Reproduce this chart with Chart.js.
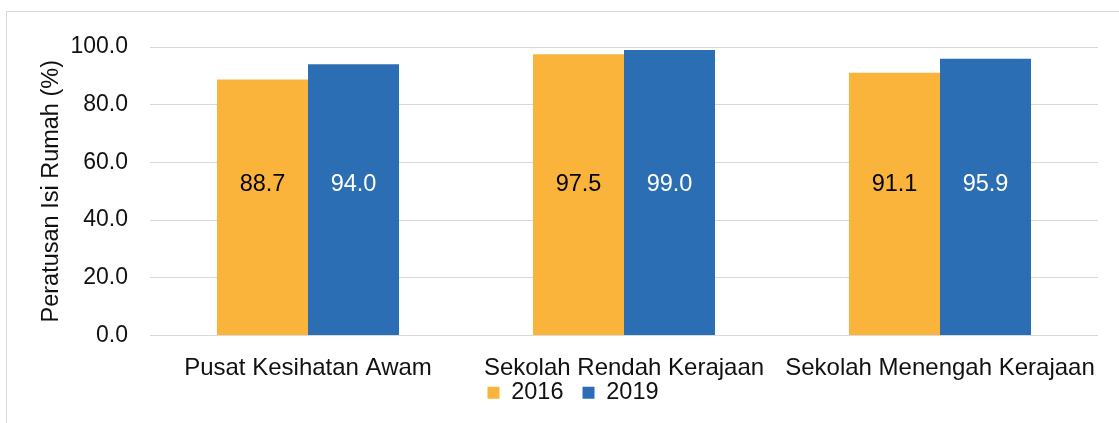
<!DOCTYPE html>
<html>
<head>
<meta charset="utf-8">
<script src="https://cdn.jsdelivr.net/npm/chart.js@4.4.1/dist/chart.umd.min.js"></script>
<style>
    html, body { margin: 0; padding: 0; background: #fff; }
    .wrap { position: relative; width: 1119px; height: 423px; overflow: hidden; }
    .frame { position: absolute; left: 6px; top: 11px; width: 1200px; height: 500px; border: 1px solid #d9d9d9; }
    .wrap canvas { position: absolute; left: 0; top: 0; }
</style>
</head>
<body>
<div class="wrap">
    <div class="frame"></div>
    <canvas id="chart" width="1119" height="423"></canvas>
</div>
<script>
// Data
const categories = ['Pusat Kesihatan Awam', 'Sekolah Rendah Kerajaan', 'Sekolah Menengah Kerajaan'];
const years = ['2016', '2019'];
const values2016 = [88.7, 97.5, 91.1];
const values2019 = [94.0, 99.0, 95.9];
const yTicks = [0, 20, 40, 60, 80, 100];

const colors = {
    orange: '#fbb43b',
    blue: '#2b6eb4',
    grid: '#d9d9d9',
    text: '#111111'
};
const fontFamily = "'Liberation Sans', Arial, sans-serif";

// value labels, all drawn at the same height like the original
const valueLabels = {
    id: 'valueLabels',
    afterDatasetsDraw(chart) {
        const ctx = chart.ctx;
        const yPix = chart.scales.y.getPixelForValue(52.5);
        ctx.save();
        ctx.font = '23.5px ' + fontFamily;
        ctx.textAlign = 'center';
        ctx.textBaseline = 'middle';
        chart.data.datasets.forEach((ds, i) => {
            const meta = chart.getDatasetMeta(i);
            ctx.fillStyle = i === 0 ? '#000000' : '#ffffff';
            meta.data.forEach((bar, j) => {
                ctx.fillText(ds.data[j].toFixed(1), bar.x, yPix);
            });
        });
        ctx.restore();
    }
};

// move the legend up under the category labels and a bit to the right
const legendShift = {
    id: 'legendShift',
    afterLayout(chart) {
        const lg = chart.legend;
        if (lg) {
            lg.left += 24;
            lg.right += 24;
            lg.top -= 23.5;
            lg.bottom -= 23.5;
        }
    }
};

new Chart(document.getElementById('chart'), {
    type: 'bar',
    data: {
        labels: categories,
        datasets: [{
            label: years[0],
            data: values2016,
            backgroundColor: colors.orange
        }, {
            label: years[1],
            data: values2019,
            backgroundColor: colors.blue
        }]
    },
    options: {
        responsive: false,
        animation: false,
        devicePixelRatio: 1,
        layout: {
            padding: { top: 47, right: 21, bottom: -15, left: 0 }
        },
        datasets: {
            bar: { barPercentage: 1, categoryPercentage: 0.576 }
        },
        plugins: {
            legend: {
                position: 'bottom',
                labels: {
                    color: colors.text,
                    font: { family: fontFamily, size: 23.5 },
                    boxWidth: 12,
                    boxHeight: 12,
                    padding: 19
                }
            },
            tooltip: { enabled: false }
        },
        scales: {
            x: {
                grid: { display: false },
                border: { display: false },
                ticks: {
                    color: colors.text,
                    font: { family: fontFamily, size: 24 },
                    padding: 10,
                    maxRotation: 0,
                    autoSkip: false
                },
                afterFit(scale) { scale.height = 50; }
            },
            y: {
                min: 0,
                max: 100,
                afterBuildTicks(scale) {
                    scale.ticks = yTicks.map(v => ({ value: v }));
                },
                grid: { color: colors.grid, lineWidth: 1, drawTicks: false },
                border: { display: false },
                ticks: {
                    color: colors.text,
                    font: { family: fontFamily, size: 23 },
                    padding: 22,
                    callback: v => v.toFixed(1)
                },
                title: {
                    display: true,
                    text: 'Peratusan Isi Rumah (%)',
                    color: colors.text,
                    font: { family: fontFamily, size: 23.5 },
                    padding: { top: 37, bottom: 0 }
                },
                afterFit(scale) { scale.width = 150; }
            }
        }
    },
    plugins: [valueLabels, legendShift]
});
</script>
</body>
</html>
